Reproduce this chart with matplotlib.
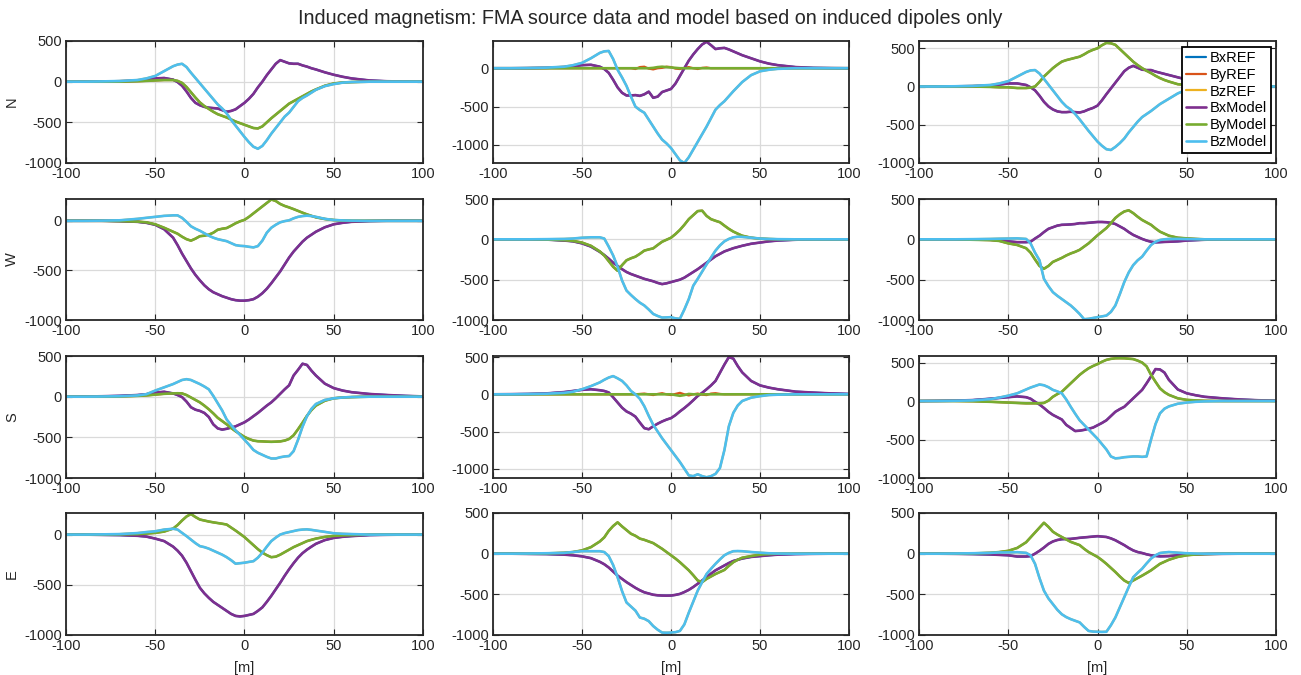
import matplotlib
matplotlib.use("Agg")
import matplotlib.pyplot as plt

plt.rcParams['font.family'] = ['Liberation Sans', 'DejaVu Sans']
plt.rcParams['axes.unicode_minus'] = False

# common x grid [m]
X = [-100, -90, -80, -70, -60, -55, -50, -45,
     -40, -37.5, -35, -32.5, -30, -27.5, -25, -22.5, -20, -17.5, -15, -12.5, -10, -7.5, -5, -2.5, 0,
     2.5, 5, 7.5, 10, 12.5, 15, 17.5, 20, 22.5, 25, 27.5, 30, 32.5, 35, 37.5, 40,
     45, 50, 55, 60, 70, 80, 90, 100]

# ---- row N ----
N1_bx = [0,0,2,5,12,25,40,45, 25,-5,-50,-120,-200,-260,-290,-310,-320,-325,-330,-350,-370,-360,-340,-300,-260,
         -210,-150,-70,0,80,150,220,265,245,225,220,220,200,185,165,150, 115,85,60,40,15,5,2,0]
N1_by = [0,0,0,0,5,10,15,20, 20,10,-15,-65,-130,-195,-255,-300,-335,-370,-400,-420,-440,-465,-490,-510,-530,
         -550,-570,-575,-550,-500,-450,-405,-360,-315,-270,-240,-210,-180,-150,-120,-95, -50,-22,-10,-5,0,0,0,0]
N1_bz = [0,0,3,8,20,40,70,130, 190,210,220,180,110,45,-20,-85,-150,-215,-280,-330,-390,-470,-540,-610,-680,
         -745,-800,-825,-790,-720,-640,-570,-500,-430,-380,-310,-240,-200,-170,-135,-100, -55,-30,-12,-5,0,0,0,0]

N2_bx = [0,0,2,5,15,25,40,45, 20,-10,-60,-150,-250,-320,-355,-355,-350,-360,-340,-305,-385,-370,-310,-290,-270,
         -200,-100,0,100,180,250,310,345,300,250,260,265,245,220,195,170, 130,90,60,40,15,5,2,0]
N2_by = [0,0,0,0,0,0,0,0, 0,0,0,0,0,0,0,0,0,0,0,0,5,15,20,15,10,
         5,0,0,0,0,0,0,0,0,0,0,0,0,0,0,0, 0,0,0,0,0,0,0,0]
N2_by_ref = [0,0,0,0,0,0,0,0, 0,0,0,0,0,0,0,0,-10,15,20,-5,-15,0,5,20,15,
             -5,-10,5,15,0,-10,5,10,0,0,0,0,0,0,0,0, 0,0,0,0,0,0,0,0]
N2_bz = [0,0,3,8,20,40,70,130, 200,220,225,120,-20,-120,-230,-370,-500,-545,-580,-670,-760,-850,-930,-980,-1040,
         -1120,-1200,-1235,-1160,-1060,-960,-860,-760,-650,-540,-480,-430,-365,-300,-240,-180, -90,-40,-20,-8,0,0,0,0]

N3_bx = [0,0,2,5,12,25,40,40, 20,-10,-50,-120,-200,-260,-300,-325,-335,-335,-330,-335,-340,-325,-300,-280,-250,
         -180,-100,-25,50,125,200,245,270,245,220,215,215,195,180,165,150, 120,90,60,40,15,5,2,0]
N3_by = [0,0,0,0,-5,-10,-10,-20, -20,-15,0,60,130,185,240,285,325,345,360,375,390,420,455,480,500,
         540,570,565,545,490,435,380,325,280,240,205,175,140,110,85,65, 30,20,10,5,0,0,0,0]
N3_bz = [0,0,3,8,20,40,70,130, 190,210,215,170,100,25,-50,-125,-200,-260,-300,-360,-430,-505,-580,-650,-720,
         -775,-820,-830,-790,-740,-680,-600,-530,-460,-400,-360,-320,-275,-230,-195,-160, -90,-40,-20,-10,0,0,0,0]

# ---- row W ----
W1_bx = [0,0,0,-3,-10,-20,-40,-85, -170,-245,-330,-405,-480,-545,-600,-650,-690,-720,-740,-760,-775,-790,-800,-805,-805,
         -800,-790,-765,-730,-685,-630,-570,-510,-440,-370,-310,-260,-210,-170,-140,-110, -65,-35,-20,-10,-3,0,0,0]
W1_by = [0,0,0,-3,-8,-15,-35,-70, -110,-130,-160,-185,-200,-180,-155,-150,-140,-120,-90,-80,-73,-50,-25,-5,10,
         40,75,110,145,180,215,200,170,150,135,118,100,82,65,50,35, 18,8,3,0,0,0,0,0]
W1_bz = [0,0,2,5,20,30,40,50, 55,55,30,-10,-55,-80,-100,-125,-150,-170,-185,-195,-205,-225,-245,-252,-255,
         -262,-268,-255,-200,-120,-70,-40,-15,-3,5,25,40,48,52,48,40, 20,8,4,2,0,0,0,0]

W2_bx = [0,0,0,-3,-15,-25,-50,-90, -155,-195,-240,-290,-330,-370,-405,-430,-450,-470,-490,-505,-520,-540,-555,-545,-530,
         -515,-500,-475,-440,-405,-370,-330,-290,-250,-210,-180,-150,-130,-110,-95,-80, -55,-40,-25,-15,-5,0,0,0]
W2_by = [0,0,0,-3,-10,-20,-40,-80, -150,-200,-270,-340,-390,-320,-260,-235,-215,-180,-140,-125,-112,-70,-30,-5,20,
         65,117,180,250,300,350,355,290,250,230,212,170,130,96,70,45, 20,8,3,0,0,0,0,0]
W2_bz = [0,0,0,2,5,10,20,25, 25,10,-90,-200,-340,-510,-635,-690,-740,-785,-820,-870,-925,-950,-970,-968,-965,
         -980,-985,-870,-740,-575,-490,-400,-310,-225,-140,-75,-25,5,25,32,30, 20,10,5,2,0,0,0,0]

W3_bx = [0,0,0,0,-5,-10,-25,-35, -35,-30,10,45,90,130,150,170,180,182,185,190,200,200,205,210,215,
         215,212,205,190,160,130,90,55,30,5,-15,-30,-37,-35,-32,-30, -25,-15,-10,-5,0,0,0,0]
W3_by = [0,0,0,-5,-10,-20,-50,-70, -110,-165,-250,-330,-365,-330,-280,-255,-230,-200,-175,-155,-130,-90,-50,0,50,
         95,140,200,265,310,345,360,325,280,240,210,180,135,95,70,45, 20,12,5,0,0,0,0,0]
W3_bz = [0,0,0,2,5,8,10,12, 5,-50,-165,-260,-490,-580,-655,-700,-740,-780,-820,-870,-925,-990,-985,-975,-965,
         -955,-945,-900,-820,-680,-530,-410,-320,-260,-215,-140,-70,-30,-8,0,5, 5,3,2,0,0,0,0,0]

# ---- row S ----
S1_bx = [0,2,5,10,20,30,50,60, 40,20,-5,-60,-130,-160,-175,-200,-250,-340,-390,-405,-395,-380,-365,-340,-315,
         -280,-240,-200,-155,-110,-70,-20,35,90,140,260,330,405,390,320,260, 160,105,75,55,33,20,10,3]
S1_by = [0,0,0,2,10,15,25,35, 40,42,40,20,-10,-40,-70,-110,-155,-205,-260,-300,-340,-385,-425,-460,-495,
         -520,-540,-548,-550,-553,-555,-553,-550,-540,-520,-475,-400,-320,-235,-165,-110, -50,-20,-10,-5,0,0,0,0]
S1_bz = [0,0,2,5,15,30,75,115, 155,180,205,215,205,180,155,125,90,10,-80,-170,-280,-350,-415,-470,-530,
         -590,-655,-690,-715,-740,-760,-760,-745,-735,-730,-670,-530,-370,-240,-150,-90, -40,-20,-10,-5,0,0,0,0]

S2_bx = [0,2,5,12,30,45,60,68, 55,45,25,-40,-110,-180,-230,-260,-300,-380,-455,-470,-430,-395,-365,-340,-320,
         -280,-230,-185,-135,-80,-23,20,68,120,180,290,400,500,480,380,295, 180,120,90,68,36,23,12,5]
S2_by = [0,0,0,0,0,0,0,0, 0,0,0,0,0,0,0,0,0,0,0,0,0,0,0,0,0,
         -10,-20,-10,5,0,0,0,0,0,0,0,0,0,0,0,0, 0,0,0,0,0,0,0,0]
S2_by_ref = [0,0,0,0,0,0,0,0, 0,0,0,0,0,0,0,0,0,5,10,0,-10,5,15,0,-10,
             5,20,0,-15,0,10,-5,-10,10,15,5,0,0,0,0,0, 0,0,0,0,0,0,0,0]
S2_bz = [0,0,3,8,20,35,68,110, 160,195,225,245,215,180,120,45,0,-60,-160,-290,-410,-500,-590,-670,-750,
         -830,-910,-1000,-1090,-1100,-1075,-1100,-1115,-1100,-1070,-990,-750,-430,-250,-150,-90, -45,-25,-10,-5,0,0,0,0]

S3_bx = [0,2,5,12,30,40,50,60, 50,30,-10,-45,-90,-140,-180,-210,-240,-310,-350,-390,-385,-375,-360,-345,-315,
         -285,-250,-195,-140,-105,-75,-20,35,90,145,230,320,415,410,370,275, 150,100,75,55,35,20,10,5]
S3_by = [0,0,0,-3,-10,-15,-20,-25, -30,-30,-30,-30,-25,5,55,90,120,175,230,285,340,385,425,455,480,
         510,535,548,555,556,555,550,545,525,500,450,340,250,165,115,80, 35,15,8,3,0,0,0,0]
S3_bz = [0,0,3,8,25,45,70,100, 150,175,195,215,205,180,145,125,100,20,-75,-165,-250,-310,-370,-430,-490,
         -560,-630,-720,-745,-740,-730,-725,-720,-720,-725,-720,-500,-300,-160,-100,-70, -35,-20,-10,-5,0,0,0,0]

# ---- row E ----
E1_bx = [0,0,-3,-5,-12,-20,-40,-65, -120,-160,-210,-280,-365,-450,-530,-585,-630,-670,-700,-730,-760,-790,-810,-815,-810,
         -800,-790,-760,-725,-670,-610,-545,-480,-410,-345,-285,-230,-185,-150,-120,-92, -55,-33,-22,-15,-5,-2,0,0]
E1_by = [0,0,0,2,5,10,17,30, 60,95,140,180,205,175,150,140,130,122,115,108,100,70,40,8,-25,
         -65,-105,-145,-180,-205,-225,-220,-200,-175,-150,-125,-105,-85,-65,-52,-40, -23,-13,-8,-5,0,0,0,0]
E1_bz = [0,0,2,5,15,25,33,50, 58,50,17,-15,-50,-85,-115,-125,-140,-160,-180,-200,-225,-255,-290,-285,-280,
         -272,-265,-230,-180,-120,-65,-30,0,15,25,35,45,50,52,47,40, 27,13,8,5,0,0,0,0]

E2_bx = [0,0,-3,-5,-12,-20,-33,-55, -100,-130,-170,-220,-270,-310,-350,-385,-420,-450,-475,-490,-505,-512,-515,-516,-515,
         -507,-495,-472,-445,-410,-370,-330,-290,-245,-205,-175,-145,-115,-90,-75,-60, -40,-30,-20,-12,-5,-2,0,0]
E2_by = [0,0,0,3,10,20,40,80, 150,200,280,340,385,335,290,245,220,185,170,150,130,95,60,20,-20,
         -60,-105,-155,-205,-265,-330,-350,-310,-280,-250,-225,-200,-150,-105,-75,-50, -30,-12,-5,0,0,0,0,0]
E2_bz = [0,0,2,5,10,20,30,30, 30,20,-30,-140,-290,-460,-600,-650,-700,-785,-800,-830,-890,-935,-970,-972,-970,
         -965,-950,-870,-725,-590,-455,-350,-250,-185,-125,-70,-20,10,30,32,30, 20,12,5,2,0,0,0,0]

E3_bx = [0,0,-2,-5,-10,-15,-20,-35, -35,-30,0,35,75,120,150,168,178,180,182,188,195,200,205,210,215,
         210,205,188,165,135,105,70,40,20,8,-8,-20,-28,-33,-32,-30, -20,-12,-8,-5,-2,0,0,0]
E3_by = [0,0,0,3,10,20,35,70, 140,200,260,320,380,330,270,235,205,175,145,125,105,60,20,-10,-40,
         -80,-125,-175,-225,-280,-330,-360,-330,-300,-270,-238,-205,-165,-125,-100,-75, -40,-20,-10,-5,0,0,0,0]
E3_bz = [0,0,2,5,10,15,15,18, 10,-20,-125,-300,-455,-550,-620,-690,-745,-780,-805,-825,-845,-900,-950,-958,-960,
         -962,-960,-880,-785,-660,-535,-410,-290,-235,-185,-120,-60,-20,8,15,20, 12,5,2,0,0,0,0,0]

ROW_NAMES = ['N', 'W', 'S', 'E']
YLIMS = [[(-1000, 500), (-1235, 355), (-1000, 595)],
         [(-1000, 220), (-1000, 500), (-1000, 500)],
         [(-1000, 500), (-1125, 515), (-1000, 585)],
         [(-1000, 215), (-1000, 500), (-1000, 500)]]
LABELS = ['BxREF', 'ByREF', 'BzREF', 'BxModel', 'ByModel', 'BzModel']
COLORS = ['#0072BD', '#D95319', '#EDB120', '#7E2F8E', '#77AC30', '#4DBEEE']
TITLE = 'Induced magnetism: FMA source data and model based on induced dipoles only'

panels = {
    ('N', 0): (N1_bx, N1_by, N1_bz, N1_bx, N1_by, N1_bz),
    ('N', 1): (N2_bx, N2_by_ref, N2_bz, N2_bx, N2_by, N2_bz),
    ('N', 2): (N3_bx, N3_by, N3_bz, N3_bx, N3_by, N3_bz),
    ('W', 0): (W1_bx, W1_by, W1_bz, W1_bx, W1_by, W1_bz),
    ('W', 1): (W2_bx, W2_by, W2_bz, W2_bx, W2_by, W2_bz),
    ('W', 2): (W3_bx, W3_by, W3_bz, W3_bx, W3_by, W3_bz),
    ('S', 0): (S1_bx, S1_by, S1_bz, S1_bx, S1_by, S1_bz),
    ('S', 1): (S2_bx, S2_by_ref, S2_bz, S2_bx, S2_by, S2_bz),
    ('S', 2): (S3_bx, S3_by, S3_bz, S3_bx, S3_by, S3_bz),
    ('E', 0): (E1_bx, E1_by, E1_bz, E1_bx, E1_by, E1_bz),
    ('E', 1): (E2_bx, E2_by, E2_bz, E2_bx, E2_by, E2_bz),
    ('E', 2): (E3_bx, E3_by, E3_bz, E3_bx, E3_by, E3_bz),
}

W, H = 1301, 675
fig = plt.figure(figsize=(W / 100, H / 100), dpi=100)
col_px = [(66, 423), (493, 849), (919, 1276)]
row_px = [(41, 163), (199, 320), (356, 478), (513, 635)]
axc = '#262626'
fs = 10.5

for r, rname in enumerate(ROW_NAMES):
    for c in range(3):
        x0, x1 = col_px[c]
        t, b = row_px[r]
        ax = fig.add_axes([x0 / W, 1 - b / H, (x1 - x0) / W, (b - t) / H])
        series = panels[(rname, c)]
        lines = []
        for k in range(6):
            lw = 1.6 if k < 3 else 1.9
            ln, = ax.plot(X, series[k], color=COLORS[k], lw=lw, label=LABELS[k],
                          solid_capstyle='round', solid_joinstyle='round')
            lines.append(ln)
        ax.set_xlim(-100, 100)
        lo, hi = YLIMS[r][c]
        ax.set_ylim(lo, hi)
        ax.set_xticks([-100, -50, 0, 50, 100])
        ax.set_yticks([v for v in (-1000, -500, 0, 500) if lo - 1 <= v <= hi + 1])
        ax.grid(True, color='#dadada', lw=0.9)
        ax.set_axisbelow(True)
        ax.tick_params(direction='in', length=4, width=0.8, colors=axc,
                       labelsize=fs, top=True, right=True, pad=3)
        for s in ax.spines.values():
            s.set_color(axc)
            s.set_linewidth(1.3)
        if c == 0:
            ax.set_ylabel(rname, fontsize=fs, color=axc)
            ax.yaxis.set_label_coords((19 - 66) / 357, 0.5)
        if r == 3:
            ax.set_xlabel('[m]', fontsize=fs, color=axc)
            ax.xaxis.set_label_coords(0.5, -0.21)
        if r == 0 and c == 2:
            leg = ax.legend(handles=lines, loc='upper right', bbox_to_anchor=(0.985, 0.95),
                            borderaxespad=0, fontsize=fs, frameon=True, fancybox=False,
                            handlelength=1.4, handletextpad=0.25, labelspacing=0.2,
                            borderpad=0.25)
            leg.get_frame().set_edgecolor('black')
            leg.get_frame().set_linewidth(1.3)
            leg.get_frame().set_alpha(1)

fig.text(0.5, 1 - 18 / H, TITLE, ha='center', va='center', fontsize=14.2, color=axc)
fig.savefig('out.png', dpi=100, facecolor='white')
